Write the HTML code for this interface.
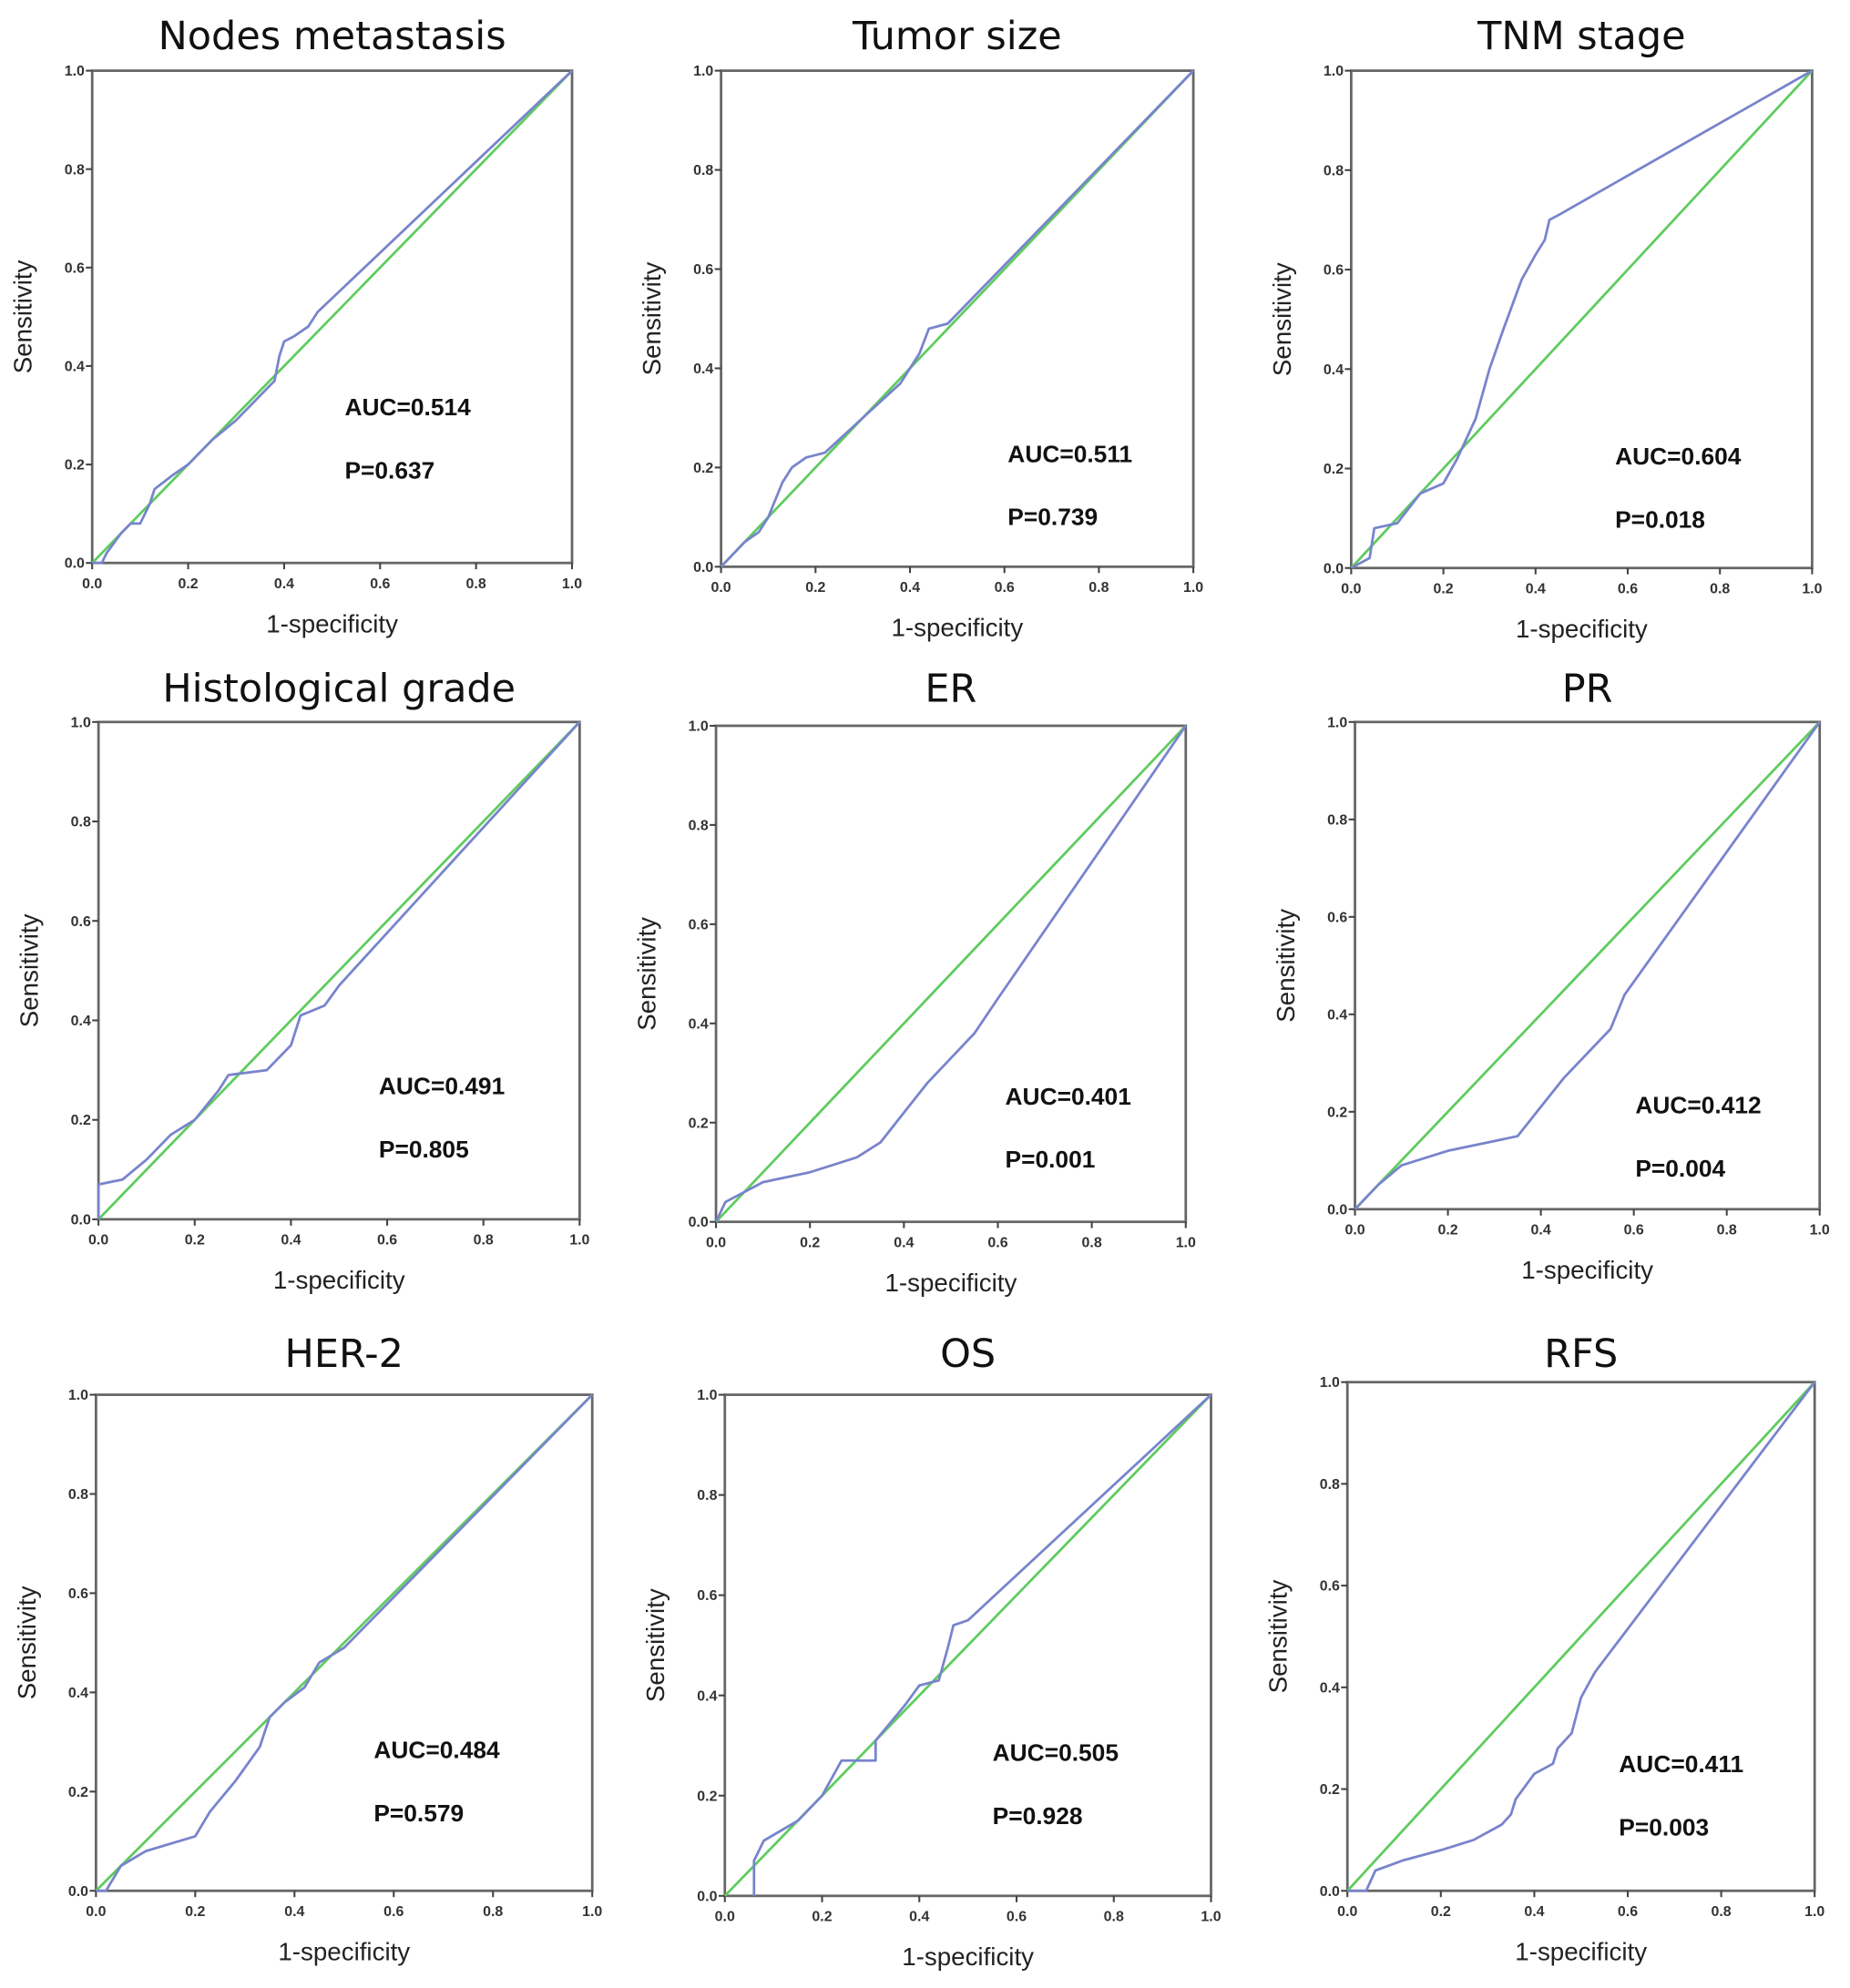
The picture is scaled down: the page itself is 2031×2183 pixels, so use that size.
<!DOCTYPE html>
<html><head><meta charset="utf-8"><style>
html,body{margin:0;padding:0;background:#fff}
svg{display:block}
</style></head><body>
<svg id="fig" width="2031" height="2183" viewBox="0 0 1465 1575" preserveAspectRatio="none" xmlns="http://www.w3.org/2000/svg" font-family="Liberation Sans, sans-serif"></svg>
<script>
const titles = ["Nodes metastasis","Tumor size","TNM stage","Histological grade","ER","PR","HER-2","OS","RFS"];
const aucLabels = ["AUC=0.514","AUC=0.511","AUC=0.604","AUC=0.491","AUC=0.401","AUC=0.412","AUC=0.484","AUC=0.505","AUC=0.411"];
const pLabels = ["P=0.637","P=0.739","P=0.018","P=0.805","P=0.001","P=0.004","P=0.579","P=0.928","P=0.003"];
const tickLabels = ["0.0","0.2","0.4","0.6","0.8","1.0"];
const tickValues = [0,0.2,0.4,0.6,0.8,1];
const rocX = [
 [0,0.02,0.03,0.06,0.08,0.1,0.12,0.13,0.17,0.2,0.25,0.3,0.35,0.38,0.39,0.4,0.42,0.45,0.47,1],
 [0,0.05,0.08,0.1,0.13,0.15,0.18,0.22,0.3,0.38,0.42,0.44,0.48,1],
 [0,0.04,0.05,0.1,0.15,0.2,0.23,0.27,0.3,0.33,0.37,0.4,0.42,0.43,0.45,1],
 [0,0,0.05,0.1,0.15,0.2,0.25,0.27,0.35,0.4,0.42,0.47,0.5,1],
 [0,0.02,0.1,0.2,0.3,0.35,0.4,0.45,0.5,0.55,0.6,1],
 [0,0.05,0.1,0.2,0.3,0.35,0.4,0.45,0.5,0.55,0.58,1],
 [0,0.02,0.05,0.1,0.2,0.23,0.28,0.33,0.35,0.38,0.42,0.45,0.5,1],
 [0.06,0.06,0.08,0.15,0.2,0.24,0.31,0.31,0.37,0.4,0.44,0.46,0.47,0.5,1],
 [0,0.04,0.06,0.12,0.2,0.27,0.33,0.35,0.36,0.4,0.44,0.45,0.48,0.5,0.53,1]
];
const rocY = [
 [0,0,0.02,0.06,0.08,0.08,0.12,0.15,0.18,0.2,0.25,0.29,0.34,0.37,0.42,0.45,0.46,0.48,0.51,1],
 [0,0.05,0.07,0.1,0.17,0.2,0.22,0.23,0.3,0.37,0.43,0.48,0.49,1],
 [0,0.02,0.08,0.09,0.15,0.17,0.22,0.3,0.4,0.48,0.58,0.63,0.66,0.7,0.71,1],
 [0,0.07,0.08,0.12,0.17,0.2,0.26,0.29,0.3,0.35,0.41,0.43,0.47,1],
 [0,0.04,0.08,0.1,0.13,0.16,0.22,0.28,0.33,0.38,0.45,1],
 [0,0.05,0.09,0.12,0.14,0.15,0.21,0.27,0.32,0.37,0.44,1],
 [0,0,0.05,0.08,0.11,0.16,0.22,0.29,0.35,0.38,0.41,0.46,0.49,1],
 [0,0.07,0.11,0.15,0.2,0.27,0.27,0.31,0.38,0.42,0.43,0.5,0.54,0.55,1],
 [0,0,0.04,0.06,0.08,0.1,0.13,0.15,0.18,0.23,0.25,0.28,0.31,0.38,0.43,1]
];
// layout (figure coordinates): frame left, right, top, bottom; title y; stat text x,y
const frames = [[73,453,56,446,28,273,322],[571,945,56,449,28,798,359],[1070,1435,56,450,28,1279,361],
 [78,459,572,966,545,300,860],[567,939,575,968,545,796,868],[1073,1441,572,958,545,1295,875],
 [76,469,1105,1498,1072,296,1386],[574,959,1105,1502,1072,786,1388],[1067,1437,1095,1498,1072,1282,1397]];
const NS="http://www.w3.org/2000/svg";
const svg=document.getElementById('fig');
function mk(tag,attrs,parent,text){const e=document.createElementNS(NS,tag);for(const k in attrs)e.setAttribute(k,attrs[k]);if(text!==undefined)e.textContent=text;parent.appendChild(e);return e;}
frames.forEach((f,i)=>{
 const [L,R,T,B,ty,ax,ay]=f;
 const sx=v=>L+v*(R-L), sy=v=>B-v*(B-T);
 const g=mk('g',{},svg);
 
 
 const t=mk('text',{x:(L+R)/2,y:ty+11,'text-anchor':'middle','font-size':31,fill:'#111','font-family':'DejaVu Sans, Liberation Sans, sans-serif'},g,titles[i]);
 
 
 const fr=mk('rect',{x:L,y:T,width:R-L,height:B-T,fill:'none',stroke:'#666','stroke-width':2},g);
 
 
 tickValues.forEach((v,k)=>{
  mk('line',{x1:sx(v),y1:B,x2:sx(v),y2:B+5,stroke:'#444','stroke-width':1.5},g);
  mk('line',{x1:L-5,y1:sy(v),x2:L,y2:sy(v),stroke:'#444','stroke-width':1.5},g);
  const xl=mk('text',{x:sx(v),y:B+20,'text-anchor':'middle','font-size':11.5,'font-weight':'bold',fill:'#333'},g,tickLabels[k]);
  
  
  const yl=mk('text',{x:L-6,y:sy(v)+4,'text-anchor':'end','font-size':11.5,'font-weight':'bold',fill:'#333'},g,tickLabels[k]);
  
  
 });
 const xt=mk('text',{x:(L+R)/2,y:B+55,'text-anchor':'middle','font-size':20,fill:'#222'},g,'1-specificity');
 
 
 const yc=(T+B)/2, yx=L-48;
 const yt=mk('text',{x:yx,y:yc,'text-anchor':'middle','font-size':20,fill:'#222',transform:`rotate(-90 ${yx} ${yc})`},g,'Sensitivity');
 
 
 const ref=mk('line',{x1:sx(0),y1:sy(0),x2:sx(1),y2:sy(1),stroke:'#5fcc5f','stroke-width':2},g);
 
 
 const pts=rocX[i].map((x,k)=>sx(x).toFixed(1)+','+sy(rocY[i][k]).toFixed(1)).join(' ');
 const c=mk('polyline',{points:pts,fill:'none',stroke:'#7884cc','stroke-width':2,'stroke-linejoin':'round'},g);
 
 
 const a=mk('text',{x:ax,y:ay+7,'font-size':19,'font-weight':'bold',fill:'#111'},g,aucLabels[i]);
 
 
 const p=mk('text',{x:ax,y:ay+57,'font-size':19,'font-weight':'bold',fill:'#111'},g,pLabels[i]);
 
 
});
</script>
</body></html>
